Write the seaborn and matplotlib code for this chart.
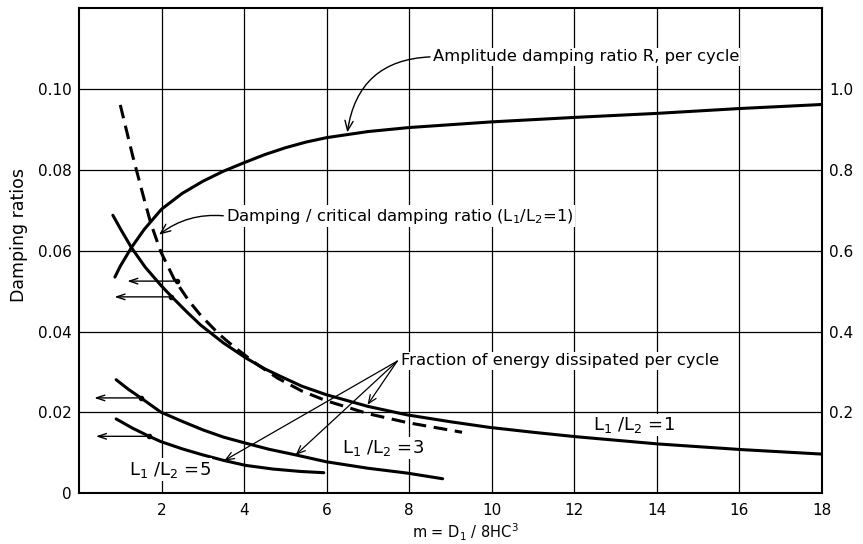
import matplotlib
matplotlib.use("Agg")
import matplotlib.pyplot as plt
import seaborn as sns
import numpy as np
import pandas as pd

# ---------------- data ----------------
# Amplitude damping ratio R, per cycle (right axis)
amp_x = [0.87, 1.0, 1.27, 1.58, 2.0, 2.5, 3.0, 3.5, 4.0, 4.5, 5.0, 5.5, 6.0, 7.0, 8.0, 10.0, 12.0, 14.0, 16.0, 18.0]
amp_R = [0.535, 0.562, 0.608, 0.653, 0.703, 0.742, 0.772, 0.797, 0.818, 0.838, 0.855, 0.869, 0.880, 0.895, 0.905, 0.919, 0.930, 0.940, 0.952, 0.962]

# Damping / critical damping ratio (L1/L2=1), dashed (left axis)
crit_x = [1.0, 1.3, 1.58, 1.74, 1.98, 2.31, 2.67, 2.95, 3.4, 3.76, 4.3, 4.81, 5.4, 5.99, 7.0, 7.95, 9.28]
crit_y = [0.0961, 0.0835, 0.0727, 0.0668, 0.0598, 0.0529, 0.0475, 0.0440, 0.0393, 0.0362, 0.0320, 0.0285, 0.0253, 0.0229, 0.0197, 0.0175, 0.0151]

# Fraction of energy dissipated per cycle (left axis)
e1_x = [0.82, 1.0, 1.27, 1.6, 1.98, 2.23, 2.6, 2.95, 3.5, 4.04, 4.5, 4.89, 5.4, 5.99, 7.0, 7.95, 9.0, 9.95, 11.0, 12.04, 14.04, 16.07, 18.0]
e1_y = [0.0688, 0.0655, 0.0608, 0.0560, 0.0515, 0.0488, 0.0450, 0.0416, 0.0372, 0.0335, 0.0308, 0.0289, 0.0265, 0.0244, 0.0215, 0.0194, 0.0177, 0.0163, 0.0151, 0.0140, 0.0122, 0.0108, 0.0097]
e3_x = [0.90, 1.2, 1.5, 1.98, 2.5, 3.0, 3.5, 4.04, 4.6, 5.25, 5.99, 7.0, 7.95, 8.81]
e3_y = [0.0281, 0.0257, 0.0236, 0.0201, 0.0178, 0.0157, 0.0139, 0.0124, 0.0109, 0.0095, 0.0078, 0.0062, 0.0050, 0.0036]
e5_x = [0.90, 1.3, 1.70, 1.98, 2.5, 3.0, 3.52, 4.04, 4.7, 5.37, 5.93]
e5_y = [0.0184, 0.0161, 0.0141, 0.0128, 0.0110, 0.0095, 0.0081, 0.0069, 0.0060, 0.0054, 0.0051]

x_ticks = [2, 4, 6, 8, 10, 12, 14, 16, 18]
x_tick_labels = ["2", "4", "6", "8", "10", "12", "14", "16", "18"]
yl_ticks = [0, 0.02, 0.04, 0.06, 0.08, 0.10]
yl_tick_labels = ["0", "0.02", "0.04", "0.06", "0.08", "0.10"]
yr_ticks = [0.2, 0.4, 0.6, 0.8, 1.0]
yr_tick_labels = ["0.2", "0.4", "0.6", "0.8", "1.0"]

# left-pointing reading arrows (start x, end x, y)
read_arrows = [(2.38, 1.17, 0.0525), (2.23, 0.86, 0.0486), (1.50, 0.37, 0.0236), (1.70, 0.41, 0.0141)]
# fraction-of-energy arrow heads
frac_origin = (7.71, 0.0327)
frac_heads = [(6.99, 0.0219), (5.25, 0.0095), (3.52, 0.0081)]

# ---------------- plotting ----------------
sns.set_style("white")
plt.rcParams['font.family'] = ['DejaVu Sans']
plt.rcParams['mathtext.fontset'] = 'dejavusans'
plt.rcParams['text.color'] = 'black'
plt.rcParams['axes.labelcolor'] = 'black'
plt.rcParams['xtick.color'] = 'black'
plt.rcParams['ytick.color'] = 'black'

fig = plt.figure(figsize=(8.63, 5.44), dpi=100)
ax = fig.add_axes([79/863, (544-493.3)/544, (822-79)/863, (493.3-8.3)/544])

lw = 2.2
def line(x, y, axis):
    df = pd.DataFrame({"x": x, "y": y})
    sns.lineplot(data=df, x="x", y="y", ax=axis, color="black", linewidth=lw,
                 sort=False, estimator=None, legend=False)
    return axis.lines[-1]

dl = line(crit_x, crit_y, ax)
dl.set_linestyle((0, (4.5, 2.5)))
line(e1_x, e1_y, ax)
line(e3_x, e3_y, ax)
line(e5_x, e5_y, ax)

ax.set_xlim(0, 18)
ax.set_ylim(0, 0.12)
ax.set_xticks(x_ticks)
ax.set_xticklabels(x_tick_labels, fontsize=11)
ax.set_yticks(yl_ticks)
ax.set_yticklabels(yl_tick_labels, fontsize=11)
ax.tick_params(axis='both', length=0, colors='black')
ax.tick_params(axis='x', pad=7)
ax.tick_params(axis='y', pad=5)
ax.grid(True, color='black', linewidth=0.9)
ax.set_axisbelow(True)
for s in ax.spines.values():
    s.set_color('black')
    s.set_linewidth(1.5)
ax.set_xlabel(r"m = D$_1$ / 8HC$^3$", fontsize=10.5, color='black')
ax.xaxis.set_label_coords(0.52, -0.058)
ax.set_ylabel("Damping ratios", fontsize=12.5, color='black')
ax.yaxis.set_label_coords(-0.068, 0.533)

ax2 = ax.twinx()
line(amp_x, amp_R, ax2)
ax2.set_ylim(0, 1.2)
ax2.set_yticks(yr_ticks)
ax2.set_yticklabels(yr_tick_labels, fontsize=11)
ax2.tick_params(axis='y', length=0, pad=5, colors='black')
ax2.set_ylabel("")
ax2.grid(False)
for s in ax2.spines.values():
    s.set_visible(False)

# reading arrows
for xs, xe, yy in read_arrows:
    ax.annotate("", xy=(xe, yy), xytext=(xs, yy),
                arrowprops=dict(arrowstyle="->,head_length=0.6,head_width=0.2", color="black", lw=1.0,
                                shrinkA=0, shrinkB=0))
    ax.plot([xs], [yy], marker='o', markersize=3, color='black')

fs_ann = 11.8
bb = dict(facecolor='white', edgecolor='none', pad=1.0)
# annotations
ax.annotate("Amplitude damping ratio R, per cycle", xy=(6.5, 0.0893), xytext=(8.57, 0.108),
            fontsize=fs_ann, va='center', ha='left', bbox=bb, color='black',
            arrowprops=dict(arrowstyle="->,head_length=0.6,head_width=0.25", color="black", lw=1.0,
                            connectionstyle="arc3,rad=0.42", shrinkA=1, shrinkB=0, relpos=(0, 0.5)))
ax.annotate(r"Damping / critical damping ratio (L$_1$/L$_2$=1)", xy=(1.94, 0.064), xytext=(3.56, 0.0686),
            fontsize=fs_ann, va='center', ha='left', bbox=bb, color='black',
            arrowprops=dict(arrowstyle="->,head_length=0.6,head_width=0.25", color="black", lw=1.0,
                            connectionstyle="arc3,rad=0.2", shrinkA=1, shrinkB=0, relpos=(0, 0.5)))
ax.text(7.79, 0.0328, "Fraction of energy dissipated per cycle", fontsize=fs_ann, va='center', ha='left',
        bbox=bb, color='black')
for hx, hy in frac_heads:
    ax.annotate("", xy=(hx, hy), xytext=frac_origin,
                arrowprops=dict(arrowstyle="->,head_length=0.6,head_width=0.25", color="black", lw=0.9,
                                shrinkA=0, shrinkB=0))

fs_l = 13
ax.text(1.21, 0.0058, r"L$_1$ /L$_2$ =5", fontsize=fs_l, va='center', ha='left', bbox=bb, color='black')
ax.text(6.38, 0.0112, r"L$_1$ /L$_2$ =3", fontsize=fs_l, va='center', ha='left', bbox=bb, color='black')
ax.text(12.46, 0.0169, r"L$_1$ /L$_2$ =1", fontsize=fs_l, va='center', ha='left', bbox=bb, color='black')

fig.savefig("out.png", dpi=100)
